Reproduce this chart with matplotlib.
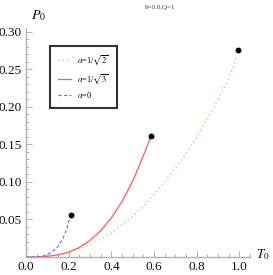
import matplotlib
matplotlib.use('Agg')
from matplotlib import pyplot as plt
from matplotlib.ticker import MultipleLocator, FixedLocator

# curve values
t_half = [0.0, 0.1, 0.2, 0.3, 0.4, 0.5, 0.55, 0.6, 0.65, 0.7, 0.75, 0.8, 0.85, 0.9, 0.95, 0.99]
p_half = [0.0, 0.001, 0.006, 0.016, 0.032, 0.054, 0.068, 0.083, 0.100, 0.118, 0.138, 0.160, 0.184, 0.210, 0.238, 0.268]

t_third = [0.0, 0.05, 0.1, 0.15, 0.2, 0.25, 0.3, 0.35, 0.4, 0.45, 0.5, 0.55, 0.585]
p_third = [0.0, 0.0001, 0.0009, 0.0028, 0.0065, 0.0127, 0.022, 0.035, 0.052, 0.074, 0.101, 0.135, 0.160]

t_zero = [0.0, 0.04, 0.08, 0.12, 0.15, 0.17, 0.19, 0.205]
p_zero = [0.0, 0.0001, 0.0012, 0.006, 0.014, 0.023, 0.036, 0.052]

end_t = [0.21, 0.588, 0.995]
end_p = [0.056, 0.161, 0.276]

labels = [r'$\alpha$=1/$\sqrt{2}$', r'$\alpha$=1/$\sqrt{3}$', r'$\alpha$=0']
x_ticks = [0.0, 0.2, 0.4, 0.6, 0.8, 1.0]
y_ticks = [0.05, 0.10, 0.15, 0.20, 0.25, 0.30]

plt.rcParams['font.family'] = ['Liberation Serif', 'DejaVu Serif']
plt.rcParams['mathtext.fontset'] = 'stix'

W, H = 273, 275
fig = plt.figure(figsize=(W / 100, H / 100), dpi=100)
ax = fig.add_axes([26 / W, 18 / H, 224 / W, 229 / H])

ax.plot(t_half, p_half, color='#7ef07e', linestyle=(0, (1, 2.2)), lw=1.0, label=labels[0])
ax.plot(t_third, p_third, color='#ff5a5a', lw=0.9, label=labels[1])
ax.plot(t_zero, p_zero, color='#6464ff', linestyle=(0, (3, 2)), lw=0.8, label=labels[2])
ax.plot(end_t, end_p, 'o', color='black', ms=3.2, clip_on=False)

ax.set_xlim(0, 1.05)
ax.set_ylim(0, 0.305)

for side in ['top', 'right']:
    ax.spines[side].set_visible(False)
for side in ['left', 'bottom']:
    ax.spines[side].set_color('#b0b0b0')
    ax.spines[side].set_linewidth(1.0)

ax.xaxis.set_major_locator(FixedLocator(x_ticks))
ax.yaxis.set_major_locator(FixedLocator(y_ticks))
ax.xaxis.set_minor_locator(MultipleLocator(0.05))
ax.yaxis.set_minor_locator(MultipleLocator(0.01))
ax.set_xticklabels(['%.1f' % v for v in x_ticks])
ax.set_yticklabels(['%.2f' % v for v in y_ticks])
ax.tick_params(which='both', direction='in', color='#b0b0b0', width=0.7,
               labelsize=9.5, labelcolor='#111111', pad=3)
ax.tick_params(which='major', length=4)
ax.tick_params(which='minor', length=2)

fig.text(31 / W, 1 - 16 / H, r'$P_0$', fontsize=10, va='center', ha='left')
fig.text(256 / W, 1 - 255 / H, r'$T_0$', fontsize=9.5, va='center', ha='left')
fig.text(160 / W, 1 - 7 / H, 'b=0.8,Q=1', fontsize=5, color='#444444', ha='center', va='center')

leg = ax.legend(loc='upper left', bbox_to_anchor=(0.107, 0.922), borderaxespad=0,
                fontsize=6, frameon=True, fancybox=False, handlelength=1.6,
                labelspacing=0.55, borderpad=0.95, handletextpad=0.7)
leg.get_frame().set_edgecolor('black')
leg.get_frame().set_linewidth(1.5)

fig.savefig('out.png', dpi=100)
